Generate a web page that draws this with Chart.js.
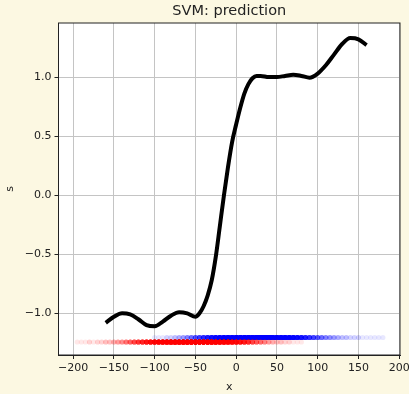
<!DOCTYPE html>
<html>
<head>
<meta charset="utf-8">
<script src="https://cdn.jsdelivr.net/npm/chart.js@4"></script>
<style>
  html, body { margin: 0; padding: 0; background: #fcf8e2; }
  #wrap { width: 409px; height: 394px; }
</style>
</head>
<body>
<div id="wrap"><canvas id="svmChart" width="409" height="394"></canvas></div>
<script>
// prediction curve s(x)
const curveX = [-160, -150, -140, -130, -120, -110, -100, -90, -80, -70, -60, -50, -45, -40, -35, -30, -25, -20, -15, -10, -5, 0, 5, 10, 15, 20, 25, 30, 40, 50, 60, 70, 80, 90, 100, 110, 120, 130, 140, 150, 160];
const curveS = [-1.08, -1.03, -1.0, -1.01, -1.05, -1.10, -1.11, -1.07, -1.02, -0.99, -1.0, -1.03, -1.0, -0.94, -0.85, -0.72, -0.52, -0.26, 0.0, 0.24, 0.45, 0.6, 0.74, 0.86, 0.94, 0.99, 1.01, 1.01, 1.0, 1.0, 1.01, 1.02, 1.01, 0.995, 1.03, 1.10, 1.19, 1.28, 1.33, 1.32, 1.27];

// sample strips: how many samples sit around each x
const redBins = [-195, -190, -185, -180, -175, -170, -165, -160, -155, -150, -145, -140, -135, -130, -125, -120, -115, -110, -105, -100, -95, -90, -85, -80, -75, -70, -65, -60, -55, -50, -45, -40, -35, -30, -25, -20, -15, -10, -5, 0, 5, 10, 15, 20, 25, 30, 35, 40, 45, 50, 55, 60, 65, 70, 75, 80];
const redCounts = [1, 1, 1, 2, 1, 2, 2, 3, 3, 4, 5, 6, 8, 10, 13, 16, 20, 25, 30, 35, 40, 45, 50, 55, 58, 60, 62, 63, 64, 64, 63, 62, 60, 57, 54, 50, 46, 41, 36, 31, 26, 22, 18, 14, 11, 9, 7, 5, 4, 3, 3, 2, 2, 1, 1, 1];
const redLevel = -1.243;

const blueBins = [-100, -95, -90, -85, -80, -75, -70, -65, -60, -55, -50, -45, -40, -35, -30, -25, -20, -15, -10, -5, 0, 5, 10, 15, 20, 25, 30, 35, 40, 45, 50, 55, 60, 65, 70, 75, 80, 85, 90, 95, 100, 105, 110, 115, 120, 125, 130, 135, 140, 145, 150, 155, 160, 165, 170, 175, 180];
const blueCounts = [1, 1, 1, 2, 2, 3, 4, 5, 7, 9, 12, 15, 19, 23, 28, 33, 38, 43, 48, 52, 56, 59, 61, 63, 64, 64, 63, 62, 60, 58, 55, 50, 46, 41, 36, 31, 26, 21, 17, 14, 11, 9, 7, 6, 5, 4, 3, 3, 2, 2, 2, 1, 1, 1, 1, 1, 1];
const blueLevel = -1.205;

const xTicks = [-200, -150, -100, -50, 0, 50, 100, 150, 200];
const yTicks = [-1.0, -0.5, 0.0, 0.5, 1.0];

const FONT = "'DejaVu Sans', sans-serif";

function strip(bins, counts, level) {
    const pts = [];
    bins.forEach((x, i) => {
        for (let k = 0; k < counts[i]; k++) pts.push({ x: x, y: level });
    });
    return pts;
}

const minus = s => String(s).replace('-', '\u2212');

// white axes face, frame + title, matplotlib style
const framePlugin = {
    id: 'frame',
    beforeDraw(chart) {
        const { ctx, chartArea: a } = chart;
        ctx.save();
        ctx.fillStyle = '#fff';
        ctx.fillRect(a.left, a.top, a.right - a.left, a.bottom - a.top);
        ctx.restore();
    },
    afterDraw(chart) {
        const { ctx, chartArea: a } = chart;
        ctx.save();
        ctx.strokeStyle = '#222';
        ctx.lineWidth = 1;
        ctx.strokeRect(a.left, a.top, a.right - a.left, a.bottom - a.top);
        ctx.fillStyle = '#222';
        ctx.font = '14.5px ' + FONT;
        ctx.textAlign = 'center';
        ctx.textBaseline = 'middle';
        ctx.fillText('SVM: prediction', (a.left + a.right) / 2, 11);
        ctx.restore();
    }
};

const ctx = document.getElementById('svmChart').getContext('2d');
new Chart(ctx, {
    type: 'scatter',
    data: {
        datasets: [
            {
                label: 'prediction',
                data: curveX.map((x, i) => ({ x: x, y: curveS[i] })),
                showLine: true,
                borderColor: '#000',
                borderWidth: 4,
                pointRadius: 0,
                cubicInterpolationMode: 'monotone',
                order: 0
            },
            {
                label: 'class -1',
                data: strip(redBins, redCounts, redLevel),
                backgroundColor: 'rgba(255,0,0,0.09)',
                borderWidth: 0,
                pointRadius: 2.6,
                order: 1
            },
            {
                label: 'class +1',
                data: strip(blueBins, blueCounts, blueLevel),
                backgroundColor: 'rgba(0,0,255,0.09)',
                borderWidth: 0,
                pointRadius: 2.6,
                order: 2
            }
        ]
    },
    options: {
        responsive: false,
        animation: false,
        events: [],
        layout: { padding: { top: 23, right: 9, left: 0, bottom: 0 } },
        plugins: {
            legend: { display: false },
            tooltip: { enabled: false }
        },
        scales: {
            x: {
                type: 'linear',
                min: -218,
                max: 201,
                afterBuildTicks: s => { s.ticks = xTicks.map(v => ({ value: v })); },
                afterFit: s => { s.height = 39; s.paddingLeft = 0; s.paddingRight = 0; },
                grid: { color: '#c4c4c4', tickColor: '#222', tickLength: 4 },
                border: { color: '#222' },
                ticks: {
                    color: '#222',
                    padding: 3,
                    maxRotation: 0,
                    font: { family: FONT, size: 11 },
                    callback: v => minus(v)
                },
                title: {
                    display: true,
                    text: 'x',
                    color: '#222',
                    font: { family: FONT, size: 11 },
                    padding: { top: 0, bottom: 0.5 }
                }
            },
            y: {
                type: 'linear',
                min: -1.353,
                max: 1.458,
                afterBuildTicks: s => { s.ticks = yTicks.map(v => ({ value: v })); },
                afterFit: s => { s.width = 58.5; s.paddingTop = 0; s.paddingBottom = 0; },
                grid: { color: '#c4c4c4', tickColor: '#222', tickLength: 4 },
                border: { color: '#222' },
                ticks: {
                    color: '#222',
                    padding: 3,
                    font: { family: FONT, size: 11 },
                    callback: v => minus(v.toFixed(1))
                },
                title: {
                    display: true,
                    text: 's',
                    color: '#222',
                    font: { family: FONT, size: 11 },
                    padding: { top: 3.4, bottom: 0 }
                }
            }
        }
    },
    plugins: [framePlugin]
});
</script>
</body>
</html>
